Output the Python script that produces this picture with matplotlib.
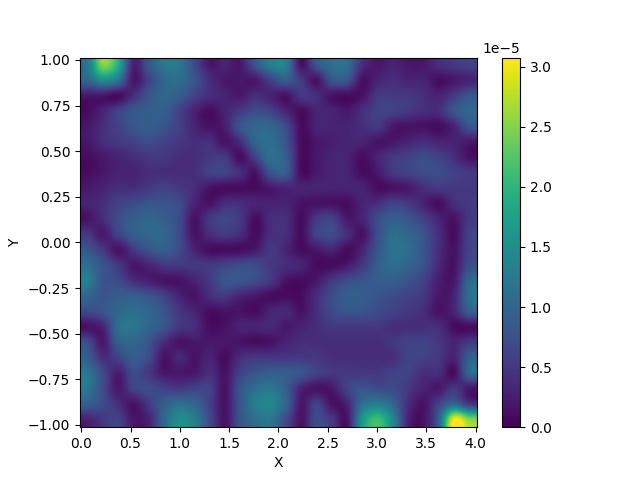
import numpy as np
import matplotlib
matplotlib.use("Agg")
import matplotlib.pyplot as plt

# |field|, in units of 1e-6; rows run top (Y=+1) to bottom (Y=-1)
row_00 = [12,25,19,3,8,12,12,7,2,3,2,8,13,13,1.5,8,11,11,4,2,3,2,2,4,5,6]
row_01 = [10,15,12,2,6,10,11,8,4,2,2,2,6,9,5,1.5,8,8,1.5,3,4,3,3,1,2,3]
row_02 = [2,2,1,4,8,10,9,6,4,3,2,4,3,1.5,5,4,1.5,1,1.5,5,5,5,4,3,5,8]
row_03 = [1,3,6,8,9,9,6,3,1,3,5,7,6,3,1,3,3,2,4,6,6,5,4,4,8,10]
row_04 = [2,4,6,8,9,8,6,3,1.5,2.5,8,10,10,7,1,3,3,3,4,5,2,1.5,1.5,1,3,8]
row_05 = [2,4,5,6,7,6,5,4,4,1.5,4,10,11,8,1,2,2.5,3,3,1.5,2,3,4,3,3,2]
row_06 = [1,2,3,4,5,5,4,4,5,5,1,6,11,9,1,2,3,3,1,3,5,6,7,6,4,1.5]
row_07 = [1,2,3,3,4,4,4,4,6,6,4,1.5,8,9,1,2,3,3,1,2,5,6,7,7,6,5]
row_08 = [2,3,4,4,5,6,5,4,1.5,1,1,1,2,3,3,3,3,3,3,1,1.5,2,4,5,5,5]
row_09 = [3,4,6,7,8,8,7,3,1.5,4,4,3,3,3,1.5,1.5,1.5,1,3,4,6,5,3,1,4,5]
row_10 = [1.5,4,7,9,10,9,7,1.5,5,6.5,5,1,4,4,1,5,6,2,3,7,9,8,6,3,1.5,5]
row_11 = [5,2,6,9,10,10,7,1.5,4,5,4,1,4,4,1,6,7,4,1.5,7,11,10,8,4,1,6]
row_12 = [8,5,1.5,5,8,9,7,3,1,1,1,2,5,3,1,2,3,1,3,8,11.5,11,8,4,1.5,6]
row_13 = [11,8,5,2,3,5,5,5,5,6,7,7,5,4,3,1,1,2,5,9,11,10,8,3.5,1.5,7]
row_14 = [13,8,7,4,2.5,1.5,1.5,3,5,8,8,7,5,1.5,1,2,5,7,8,9,9,8,6,2.5,2,10]
row_15 = [10,8,9,9,8,6,3,1.5,4,5,3,2,1,1,1,4,7,9,9,8,7,6,5,2,3,11]
row_16 = [7,8,10,11,10,8,5,3,1,1.5,1.5,1,3,3.5,1.5,4,7,8,8,7,6,5,4,1.5,3,9]
row_17 = [1.5,3,11,12,10,8,5,4,1,1.5,3,3,3.5,2,3,4,5,5,5,5,4,4,4,4,1,1]
row_18 = [7,2,9,10,8,4,1.5,2,2,2,1.5,1,1.5,3,4,4,4,4,4,4,5,6,6,5,3,5]
row_19 = [9,4,6,9,7,1.5,3.5,1.5,3,1,4,5,5,5,5,5,4,4,4,4,4,6,6,5,3,9]
row_20 = [12,7,2.5,7,5,2,2,2,4,1.5,6,8,9,9,8,6,5,5,5,5,6,6,4,4,1,10]
row_21 = [12,7,2,6,7,6,5,6,6,1.5,8,11,12,9,3,1.5,2,6,8,7,7,5,3,2,5,2]
row_22 = [9,7,4,1.5,5,9,11,10,6,1.5,8,13,14,10,2,6,1.5,3,11,13,10,4,1.5,6,10,5]
row_23 = [3,5,6,2,3,10,15,13,7,1.5,8,11,12,7,1.5,7,5,1.5,16,21,14,3,1.5,9,30,25]

rows = [row_00,row_01,row_02,row_03,row_04,row_05,row_06,row_07,row_08,row_09,row_10,row_11,
        row_12,row_13,row_14,row_15,row_16,row_17,row_18,row_19,row_20,row_21,row_22,row_23]
field = np.array(rows, dtype=float) * 1e-6
x_range = [-0.0125, 4.0125]
y_range = [-1.0125, 1.0125]

fig, ax = plt.subplots()
im = ax.imshow(field, extent=[*x_range, *y_range], aspect="auto", cmap="viridis",
               vmin=0, vmax=3.075e-5, interpolation="catrom")
ax.set_xlabel("X")
ax.set_ylabel("Y")
fig.colorbar(im, ax=ax)
fig.savefig("out.png", dpi=100)
